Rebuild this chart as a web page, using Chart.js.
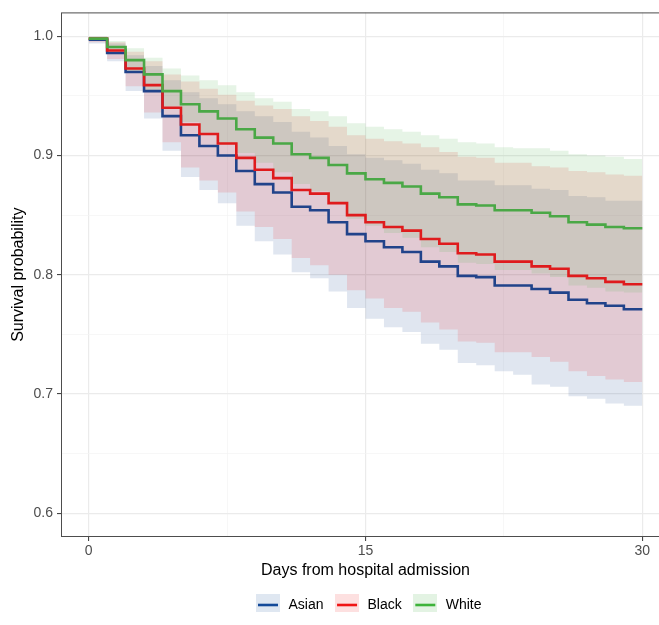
<!DOCTYPE html>
<html><head><meta charset="utf-8">
<script src="https://cdn.jsdelivr.net/npm/chart.js@4.4.1/dist/chart.umd.min.js"></script>
<style>html,body{margin:0;padding:0;overflow:hidden;background:#fff}#wrap{width:680px;height:625px}</style>
</head><body><div id="wrap"><canvas id="c" width="680" height="625" style="width:680px;height:625px"></canvas></div>
<script>
const days = [0,1,2,3,4,5,6,7,8,9,10,11,12,13,14,15,16,17,18,19,20,21,22,23,24,25,26,27,28,29,30];
const groupNames = ["Asian","Black","White"];

const asianSurv  = [0.997,0.986,0.970,0.954,0.933,0.917,0.908,0.900,0.887,0.876,0.869,0.857,0.854,0.844,0.834,0.828,0.823,0.819,0.811,0.807,0.799,0.798,0.791,0.791,0.788,0.785,0.779,0.776,0.774,0.771,0.771];
const asianUpper = [0.9995,0.994,0.984,0.975,0.963,0.953,0.948,0.943,0.937,0.933,0.928,0.920,0.915,0.908,0.901,0.898,0.896,0.893,0.888,0.885,0.879,0.879,0.875,0.875,0.872,0.871,0.866,0.865,0.862,0.862,0.862];
const asianLower = [0.994,0.979,0.954,0.931,0.904,0.882,0.871,0.860,0.841,0.828,0.817,0.802,0.797,0.786,0.772,0.763,0.756,0.752,0.742,0.737,0.726,0.724,0.719,0.716,0.708,0.706,0.698,0.696,0.692,0.690,0.690];

const blackSurv  = [0.998,0.988,0.973,0.959,0.940,0.926,0.918,0.910,0.898,0.888,0.881,0.871,0.868,0.860,0.850,0.844,0.840,0.837,0.830,0.826,0.818,0.817,0.811,0.811,0.807,0.805,0.799,0.797,0.794,0.792,0.792];
const blackUpper = [0.9995,0.995,0.987,0.979,0.968,0.962,0.956,0.951,0.946,0.942,0.939,0.933,0.929,0.924,0.917,0.914,0.912,0.910,0.907,0.903,0.899,0.898,0.894,0.894,0.891,0.890,0.887,0.886,0.884,0.883,0.883];
const blackLower = [0.995,0.981,0.958,0.936,0.911,0.890,0.879,0.869,0.853,0.840,0.830,0.814,0.808,0.800,0.787,0.780,0.772,0.769,0.760,0.754,0.744,0.743,0.735,0.735,0.731,0.727,0.719,0.715,0.712,0.710,0.710];

const whiteSurv  = [0.998,0.991,0.980,0.968,0.954,0.943,0.937,0.931,0.922,0.915,0.910,0.901,0.898,0.892,0.885,0.880,0.877,0.874,0.868,0.865,0.859,0.858,0.854,0.854,0.852,0.849,0.844,0.842,0.840,0.839,0.839];
const whiteUpper = [0.9995,0.996,0.990,0.982,0.973,0.967,0.963,0.959,0.953,0.948,0.945,0.939,0.937,0.933,0.927,0.924,0.922,0.920,0.917,0.914,0.911,0.910,0.907,0.906,0.906,0.904,0.901,0.900,0.899,0.897,0.897];
const whiteLower = [0.996,0.985,0.970,0.955,0.941,0.928,0.919,0.910,0.902,0.894,0.886,0.876,0.870,0.861,0.847,0.841,0.835,0.831,0.823,0.819,0.810,0.809,0.804,0.804,0.801,0.798,0.791,0.789,0.786,0.785,0.785];

const xMajorTicks = [0,15,30];
const xTickValues = [0,7.5,15,22.5,30];
const yTickValues = [0.6,0.65,0.7,0.75,0.8,0.85,0.9,0.95,1.0];
const yMajorTicks = [0.6,0.7,0.8,0.9,1.0];

const lineColors = {Asian:'#21438a', Black:'#df1b1d', White:'#4aa846'};
const bandColors = {Asian:'rgba(34,80,150,0.14)', Black:'rgba(235,30,30,0.14)', White:'rgba(80,180,75,0.14)'};
const keyFill = {Asian:'#dfe7f1', Black:'#fde0e0', White:'#e3f3e3'};
const keyLine = {Asian:'#144a99', Black:'#f01515', White:'#3db33a'};

const pts = arr => days.map((d,i)=>({x:d, y:arr[i]}));

function lineDs(name, arr, order){
  return {label:name, data:pts(arr), stepped:true, borderColor:lineColors[name], borderWidth:2.6,
    pointRadius:0, fill:false, order:order, borderJoinStyle:'miter'};
}
function bandDs(name, arr, order, fill){
  return {label:name+' band', data:pts(arr), stepped:true, borderColor:'rgba(0,0,0,0)', borderWidth:0,
    pointRadius:0, backgroundColor:bandColors[name], fill:fill, order:order};
}

function keyCanvas(name){
  const c = document.createElement('canvas'); c.width = 24; c.height = 22;
  const g = c.getContext('2d');
  g.fillStyle = keyFill[name]; g.fillRect(0,0,24,22);
  g.strokeStyle = keyLine[name]; g.lineWidth = 2.6;
  g.beginPath(); g.moveTo(2,11); g.lineTo(22,11); g.stroke();
  return c;
}
const keys = {Asian:keyCanvas('Asian'), Black:keyCanvas('Black'), White:keyCanvas('White')};

const datasets = [
  lineDs('White', whiteSurv, 0),
  lineDs('Black', blackSurv, 1),
  lineDs('Asian', asianSurv, 2),
  bandDs('White', whiteUpper, 3, '+1'),
  bandDs('White', whiteLower, 4, false),
  bandDs('Black', blackUpper, 5, '+1'),
  bandDs('Black', blackLower, 6, false),
  bandDs('Asian', asianUpper, 7, '+1'),
  bandDs('Asian', asianLower, 8, false)
];

const isXMajor = v => xMajorTicks.includes(v);
const isYMajor = v => yMajorTicks.some(m => Math.abs(m - v) < 1e-9);

const panelPlugin = {
  id:'panel',
  afterInit(chart){
    const lg = chart.legend;
    if (lg && !lg._patched){
      const f = lg.fit;
      lg.fit = function(){ f.call(this); this.height = 24; };
      lg._patched = true;
    }
  },
  afterLayout(chart){
    if (chart.legend){ chart.legend.left = 244.5; chart.legend.top = 588; chart.legend.bottom = 612; }
  },
  afterDatasetsDraw(chart){
    const {ctx, chartArea:a} = chart;
    ctx.save(); ctx.strokeStyle = '#4d4d4d'; ctx.lineWidth = 1;
    ctx.strokeRect(a.left+0.5, a.top+0.5, a.right-a.left-1, a.bottom-a.top-1);
    ctx.restore();
  }
};

new Chart(document.getElementById('c'), {
  type:'line',
  data:{datasets},
  options:{
    responsive:false, animation:false, parsing:true,
    layout:{padding:{top:11,left:0,right:10,bottom:0}},
    plugins:{
      tooltip:{enabled:false},
      filler:{propagate:false},
      legend:{
        position:'bottom', align:'start',
        labels:{
          usePointStyle:true, pointStyleWidth:27, padding:10,
          font:{family:'"Liberation Sans", Arial, sans-serif', size:14}, color:'#000',
          generateLabels(){ return groupNames.map((n,i)=>({text:n, pointStyle:keys[n], fillStyle:keyFill[n], strokeStyle:'rgba(0,0,0,0)', lineWidth:0, hidden:false, datasetIndex:2-i, fontColor:'#000'})); }
        }
      }
    },
    scales:{
      x:{
        type:'linear', min:-1.5, max:31.5,
        afterBuildTicks(s){ s.ticks = xTickValues.map(v=>({value:v})); },
        afterFit(s){ s.height = 64; },
        ticks:{ autoSkip:false, maxRotation:0, padding:2, color:'#4d4d4d',
          font:{family:'"Liberation Sans", Arial, sans-serif', size:14},
          callback:(v)=> isXMajor(v) ? String(v) : '' },
        grid:{ color:c=> isXMajor(c.tick.value) ? '#ebebeb' : '#f3f3f3',
               lineWidth:c=> isXMajor(c.tick.value) ? 1.2 : 0.7,
               tickColor:c=> isXMajor(c.tick.value) ? '#333333' : 'rgba(0,0,0,0)',
               tickLength:4, tickWidth:1 },
        border:{display:false},
        title:{display:true, text:'Days from hospital admission', color:'#000',
               font:{family:'"Liberation Sans", Arial, sans-serif', size:16}, padding:{top:0,bottom:21}}
      },
      y:{
        type:'linear', min:0.58, max:1.02,
        afterBuildTicks(s){ s.ticks = yTickValues.map(v=>({value:v})); },
        afterFit(s){ s.width = 61; },
        ticks:{ autoSkip:false, padding:4, color:'#4d4d4d',
          font:{family:'"Liberation Sans", Arial, sans-serif', size:14},
          callback:(v)=> isYMajor(v) ? v.toFixed(1) : '' },
        grid:{ color:c=> isYMajor(c.tick.value) ? '#ebebeb' : '#f3f3f3',
               lineWidth:c=> isYMajor(c.tick.value) ? 1.2 : 0.7,
               tickColor:c=> isYMajor(c.tick.value) ? '#333333' : 'rgba(0,0,0,0)',
               tickLength:4, tickWidth:1 },
        border:{display:false},
        title:{display:true, text:'Survival probability', color:'#000',
               font:{family:'"Liberation Sans", Arial, sans-serif', size:16}, padding:{top:9,bottom:0}}
      }
    }
  },
  plugins:[panelPlugin]
});
</script>
</body></html>
